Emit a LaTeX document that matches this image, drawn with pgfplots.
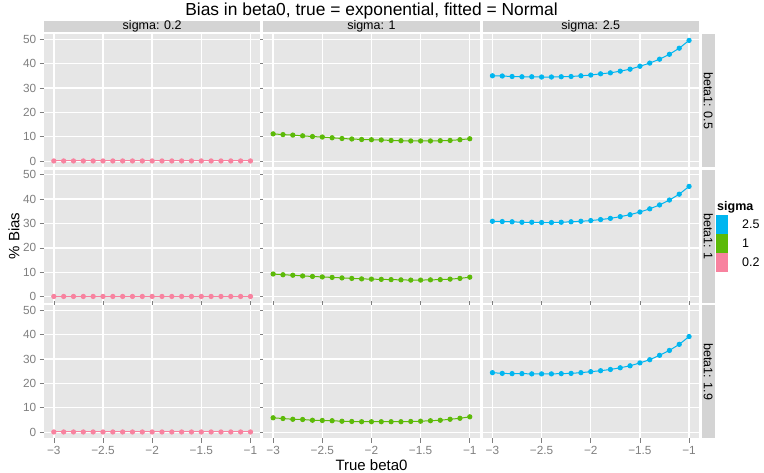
\documentclass[border=0pt]{standalone}
\usepackage{pgfplots}
\pgfplotsset{compat=1.18}
\usepackage{pgfplotstable}
\usepackage{fontspec}
\setmainfont{Liberation Sans}
\definecolor{panelbg}{HTML}{E6E6E6}
\definecolor{stripbg}{HTML}{D4D4D4}
\definecolor{tickgray}{HTML}{7F7F7F}
\definecolor{cpink}{HTML}{F8829F}
\definecolor{cgreen}{HTML}{5CBA08}
\definecolor{cblue}{HTML}{00B6F0}

\pgfplotstableread{
x s02 s1 s25
-3.0 0.1 11.2 35.0
-2.9 0.1 10.9 34.9
-2.8 0.1 10.7 34.7
-2.7 0.1 10.4 34.6
-2.6 0.1 10.1 34.6
-2.5 0.1 9.9 34.5
-2.4 0.1 9.6 34.5
-2.3 0.1 9.3 34.6
-2.2 0.1 9.1 34.7
-2.1 0.1 8.9 35.0
-2.0 0.1 8.8 35.3
-1.9 0.1 8.7 35.8
-1.8 0.1 8.5 36.2
-1.7 0.1 8.4 36.9
-1.6 0.1 8.3 37.7
-1.5 0.1 8.3 38.9
-1.4 0.1 8.3 40.2
-1.3 0.1 8.4 41.8
-1.2 0.1 8.5 43.8
-1.1 0.1 8.8 46.3
-1.0 0.1 9.2 49.5
}\tabA
\pgfplotstableread{
x s02 s1 s25
-3.0 0.1 9.3 30.9
-2.9 0.1 9.0 30.8
-2.8 0.1 8.8 30.7
-2.7 0.1 8.5 30.5
-2.6 0.1 8.3 30.5
-2.5 0.1 8.1 30.4
-2.4 0.1 7.9 30.4
-2.3 0.1 7.7 30.5
-2.2 0.1 7.5 30.7
-2.1 0.1 7.3 30.9
-2.0 0.1 7.2 31.2
-1.9 0.1 7.1 31.6
-1.8 0.1 7.0 32.1
-1.7 0.1 6.9 32.8
-1.6 0.1 6.8 33.6
-1.5 0.1 6.8 34.7
-1.4 0.1 6.9 36.0
-1.3 0.1 7.0 37.6
-1.2 0.1 7.2 39.6
-1.1 0.1 7.5 42.0
-1.0 0.1 8.0 45.2
}\tabB
\pgfplotstableread{
x s02 s1 s25
-3.0 0.1 5.9 24.4
-2.9 0.1 5.6 24.1
-2.8 0.1 5.3 24.0
-2.7 0.1 5.2 24.0
-2.6 0.1 4.9 23.9
-2.5 0.1 4.8 23.9
-2.4 0.1 4.7 23.9
-2.3 0.1 4.5 24.0
-2.2 0.1 4.4 24.1
-2.1 0.1 4.3 24.4
-2.0 0.1 4.3 24.8
-1.9 0.1 4.3 25.2
-1.8 0.1 4.3 25.7
-1.7 0.1 4.3 26.4
-1.6 0.1 4.4 27.2
-1.5 0.1 4.5 28.4
-1.4 0.1 4.7 29.7
-1.3 0.1 4.9 31.5
-1.2 0.1 5.3 33.5
-1.1 0.1 5.7 36.0
-1.0 0.1 6.3 39.2
}\tabC

\pgfplotsset{
  base/.style={scale only axis, width=216.3pt, height=133pt, anchor=north west,
    xmin=-3.1, xmax=-0.9, ymin=-2.5, ymax=52,
    axis line style={draw=none}, axis background/.style={fill=panelbg},
    xtick={-3,-2.5,-2,-1.5,-1}, ytick={0,10,20,30,40,50},
    xmajorgrids, ymajorgrids,
    major grid style={white, line width=1.35pt},
    minor tick num=0, major tick length=4.25pt, tick align=outside,
    every tick/.style={tickgray, line width=0.6pt},
    xticklabels={}, yticklabels={},
    xmajorticks=false, ymajorticks=false,
    ticklabel style={font=\fontsize{11.8}{13}\selectfont, text=tickgray},
  },
  xlab/.style={xmajorticks=true, xticklabels={−3,−2.5,−2,−1.5,−1}},
  ylab/.style={ymajorticks=true, yticklabels={0,10,20,30,40,50}},
  pA/.style={cpink, line width=1pt, mark=*, mark size=2.1pt, mark options={draw=none, fill=cpink}},
  pB/.style={cgreen, line width=1pt, mark=*, mark size=2.1pt, mark options={draw=none, fill=cgreen}},
  pC/.style={cblue, line width=1pt, mark=*, mark size=2.1pt, mark options={draw=none, fill=cblue}},
}

\begin{document}
\begin{tikzpicture}
\path[use as bounding box] (0pt,0pt) rectangle (764pt,472pt);
% row 1
\begin{axis}[base, ylab, at={(44pt,437.7pt)}]
\addplot[pA] table[x=x,y=s02] \tabA;
\end{axis}
\begin{axis}[base, at={(263.3pt,437.7pt)}]
\addplot[pB] table[x=x,y=s1] \tabA;
\end{axis}
\begin{axis}[base, at={(482.6pt,437.7pt)}]
\addplot[pC] table[x=x,y=s25] \tabA;
\end{axis}
% row 2
\begin{axis}[base, ylab, at={(44pt,302.2pt)}]
\addplot[pA] table[x=x,y=s02] \tabB;
\end{axis}
\begin{axis}[base, at={(263.3pt,302.2pt)}]
\addplot[pB] table[x=x,y=s1] \tabB;
\end{axis}
\begin{axis}[base, at={(482.6pt,302.2pt)}]
\addplot[pC] table[x=x,y=s25] \tabB;
\end{axis}
% row 3
\begin{axis}[base, ylab, xlab, at={(44pt,166.7pt)}]
\addplot[pA] table[x=x,y=s02] \tabC;
\end{axis}
\begin{axis}[base, xlab, at={(263.3pt,166.7pt)}]
\addplot[pB] table[x=x,y=s1] \tabC;
\end{axis}
\begin{axis}[base, xlab, at={(482.6pt,166.7pt)}]
\addplot[pC] table[x=x,y=s25] \tabC;
\end{axis}

% strips top
\foreach \cx/\lab in {44/{sigma: 0.2}, 263.3/{sigma: 1}, 482.6/{sigma: 2.5}}{
  \fill[stripbg] (\cx pt,451pt) rectangle ({\cx pt+216.3pt},439.7pt);
  \node[font=\fontsize{12.5}{13}\selectfont, inner sep=0pt] at ({\cx pt+108.15pt},445.35pt) {\lab};
}
% strips right
\foreach \ty/\lab in {437.7/{beta1: 0.5}, 302.2/{beta1: 1}, 166.7/{beta1: 1.9}}{
  \fill[stripbg] (701.7pt,\ty pt) rectangle (715pt,{\ty pt-133pt});
  \node[font=\fontsize{12.5}{13}\selectfont, inner sep=0pt, rotate=-90] at (708.35pt,{\ty pt-66.5pt}) {\lab};
}
% titles
\node[font=\fontsize{17.4}{20}\selectfont] at (371.5pt,461pt) {Bias in beta0, true = exponential, fitted = Normal};
\node[font=\fontsize{15}{18}\selectfont] at (371.5pt,7pt) {True beta0};
\node[font=\fontsize{15}{18}\selectfont, rotate=90] at (14pt,236pt) {\% Bias};
% legend
\node[font=\fontsize{12.5}{13}\bfseries\selectfont, anchor=west, inner sep=0pt] at (717pt,265pt) {sigma};
\fill[cblue] (716pt,257pt) rectangle (728.3pt,238pt);
\fill[cgreen] (716pt,238pt) rectangle (728.3pt,219pt);
\fill[cpink] (716pt,219pt) rectangle (728.3pt,200pt);
\node[font=\fontsize{12.5}{13}\selectfont, anchor=west, inner sep=0pt] at (742pt,247.5pt) {2.5};
\node[font=\fontsize{12.5}{13}\selectfont, anchor=west, inner sep=0pt] at (742pt,228.5pt) {1};
\node[font=\fontsize{12.5}{13}\selectfont, anchor=west, inner sep=0pt] at (742pt,209.5pt) {0.2};
\end{tikzpicture}
\end{document}
